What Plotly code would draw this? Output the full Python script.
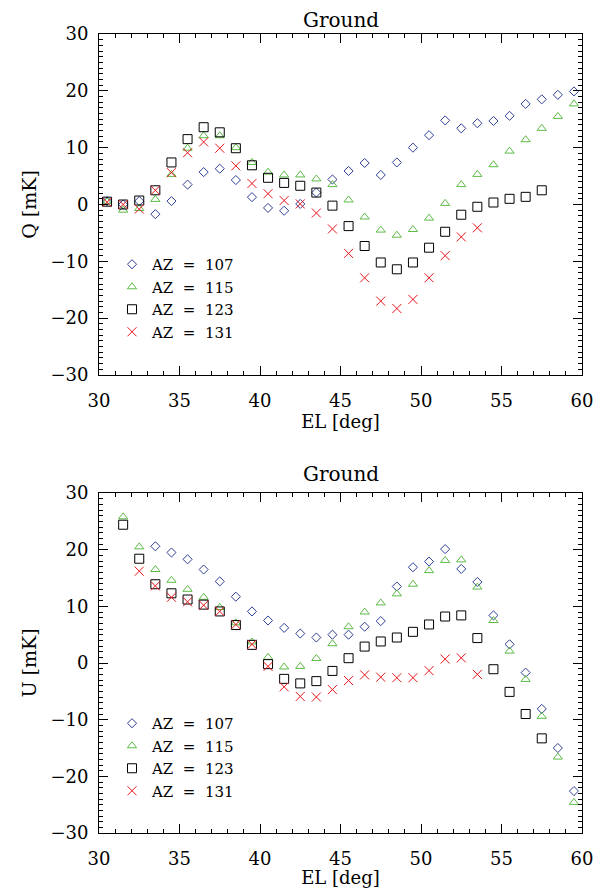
import plotly.graph_objects as go

# ---------------- data ----------------
EL_Q = [30.5, 31.5, 32.5, 33.5, 34.5, 35.5, 36.5, 37.5, 38.5, 39.5,
        40.5, 41.5, 42.5, 43.5, 44.5, 45.5, 46.5, 47.5, 48.5, 49.5,
        50.5, 51.5, 52.5, 53.5, 54.5, 55.5, 56.5, 57.5, 58.5, 59.5]

Q_107 = [0.6, 0.0, 0.6, -1.7, 0.6, 3.5, 5.7, 6.3, 4.3, 1.3,
         -0.6, -1.1, 0.1, 2.1, 4.4, 5.9, 7.3, 5.2, 7.4, 10.0,
         12.2, 14.8, 13.4, 14.3, 14.7, 15.6, 17.7, 18.5, 19.3, 19.9]
Q_115 = [0.5, -1.0, -0.7, 0.9, 5.3, 9.9, 12.1, 12.1, 10.0, 7.4,
         5.7, 5.2, 5.2, 4.5, 3.5, 0.8, -2.2, -4.5, -5.4, -4.4,
         -2.4, 0.2, 3.5, 5.3, 7.0, 9.4, 11.4, 13.4, 15.5, 17.7]
Q_123 = [0.5, 0.0, 0.7, 2.5, 7.4, 11.5, 13.6, 12.7, 9.9, 6.9,
         4.7, 3.8, 3.3, 2.1, -0.2, -3.8, -7.3, -10.2, -11.4, -10.2,
         -7.6, -4.8, -1.8, -0.4, 0.35, 1.0, 1.35, 2.5]
Q_131 = [0.4, 0.0, -0.8, 2.5, 5.6, 9.1, 11.0, 9.9, 6.8, 3.7,
         1.9, 0.7, 0.1, -1.5, -4.3, -8.6, -12.9, -17.0, -18.3, -16.7,
         -12.9, -9.0, -5.7, -4.1]

EL_U_107 = [33.5, 34.5, 35.5, 36.5, 37.5, 38.5, 39.5, 40.5, 41.5, 42.5,
            43.5, 44.5, 45.5, 46.5, 47.5, 48.5, 49.5, 50.5, 51.5, 52.5,
            53.5, 54.5, 55.5, 56.5, 57.5, 58.5, 59.5]
U_107 = [20.6, 19.5, 18.3, 16.5, 14.4, 11.7, 9.1, 7.5, 6.2, 5.2,
         4.5, 5.0, 5.0, 6.4, 7.4, 13.5, 16.9, 17.9, 20.1, 16.6,
         14.3, 8.4, 3.3, -1.7, -8.1, -15.0, -22.6]

EL_U_115 = [31.5, 32.5, 33.5, 34.5, 35.5, 36.5, 37.5, 38.5, 39.5, 40.5,
            41.5, 42.5, 43.5, 44.5, 45.5, 46.5, 47.5, 48.5, 49.5, 50.5,
            51.5, 52.5, 53.5, 54.5, 55.5, 56.5, 57.5, 58.5, 59.5]
U_115 = [25.8, 20.5, 16.5, 14.6, 13.0, 11.6, 9.8, 7.1, 3.7, 1.0,
         -0.7, -0.6, 0.8, 3.4, 6.4, 9.0, 10.6, 12.2, 13.9, 16.3,
         18.1, 18.2, 13.4, 7.5, 2.1, -2.9, -9.4, -16.6, -24.6]

EL_U_123 = [31.5, 32.5, 33.5, 34.5, 35.5, 36.5, 37.5, 38.5, 39.5, 40.5,
            41.5, 42.5, 43.5, 44.5, 45.5, 46.5, 47.5, 48.5, 49.5, 50.5,
            51.5, 52.5, 53.5, 54.5, 55.5, 56.5, 57.5]
U_123 = [24.4, 18.4, 13.9, 12.3, 11.2, 10.3, 9.1, 6.7, 3.2, -0.2,
         -2.8, -3.6, -3.2, -1.4, 0.85, 2.9, 3.8, 4.5, 5.5, 6.8,
         8.2, 8.4, 4.4, -1.1, -5.1, -9.0, -13.3]

EL_U_131 = [32.5, 33.5, 34.5, 35.5, 36.5, 37.5, 38.5, 39.5, 40.5, 41.5,
            42.5, 43.5, 44.5, 45.5, 46.5, 47.5, 48.5, 49.5, 50.5, 51.5,
            52.5, 53.5]
U_131 = [16.2, 13.6, 11.6, 10.8, 10.2, 9.1, 6.8, 3.3, -0.6, -4.2,
         -5.9, -6.0, -4.7, -3.1, -2.1, -2.5, -2.6, -2.6, -1.35, 0.7,
         0.9, -2.0]

AZ_LABELS = ["107", "115", "123", "131"]
X_TICKS = [30, 35, 40, 45, 50, 55, 60]
Y_TICKS = [-30, -20, -10, 0, 10, 20, 30]

# ---------------- styles ----------------
FONT = "DejaVu Serif"
STY = [
    dict(symbol="diamond-open", size=7, color="#2f3f94"),
    dict(symbol="triangle-up-open", size=8, color="#5dbb46"),
    dict(symbol="square-open", size=9, color="#000000"),
    dict(symbol="x-thin-open", size=9, color="#e8141c"),
]

fig = go.Figure()

q_series = [(EL_Q, Q_107), (EL_Q, Q_115), (EL_Q[:len(Q_123)], Q_123), (EL_Q[:len(Q_131)], Q_131)]
u_series = [(EL_U_107, U_107), (EL_U_115, U_115), (EL_U_123, U_123), (EL_U_131, U_131)]

for i, (x, y) in enumerate(q_series):
    s = STY[i]
    fig.add_trace(go.Scatter(
        x=x, y=y, mode="markers", xaxis="x", yaxis="y",
        name="AZ\u00a0\u00a0=\u00a0\u00a0" + AZ_LABELS[i], legend="legend",
        marker=dict(symbol=s["symbol"], size=s["size"], color=s["color"],
                    line=dict(width=1, color=s["color"]))))
for i, (x, y) in enumerate(u_series):
    s = STY[i]
    fig.add_trace(go.Scatter(
        x=x, y=y, mode="markers", xaxis="x2", yaxis="y2",
        name="AZ\u00a0\u00a0=\u00a0\u00a0" + AZ_LABELS[i], legend="legend2",
        marker=dict(symbol=s["symbol"], size=s["size"], color=s["color"],
                    line=dict(width=1, color=s["color"]))))

# page body has an 8px margin, so the figure is drawn 8px in from the top-left
OFF = 8
W, H = 606 - 2 * OFF, 896 - 2 * OFF
ML, MR, MT = 99 - OFF, W - (582 - OFF), 34 - OFF
MB = H - (833 - OFF)
PW, PH = W - ML - MR, H - MT - MB


def py(pix):
    """reference-page pixel row -> paper fraction"""
    return (H - MB - (pix - OFF)) / PH


def px(pix):
    return (pix - OFF - ML) / PW


def xax(anchor, standoff):
    return dict(
        domain=[0, 1], anchor=anchor, range=[30, 60], tickvals=X_TICKS,
        ticks="inside", ticklen=9, tickwidth=1, tickcolor="black",
        minor=dict(dtick=1, ticks="inside", ticklen=4, tickwidth=1, tickcolor="black"),
        showline=True, linecolor="black", linewidth=1, mirror="ticks",
        showgrid=False, zeroline=False,
        tickfont=dict(family=FONT, size=18, color="black"),
        ticklabelstandoff=9,
        title=dict(text="EL [deg]", font=dict(family=FONT, size=18, color="black"),
                   standoff=standoff),
    )


def yax(anchor, domain, title):
    return dict(
        domain=domain, anchor=anchor, range=[-30, 30], tickvals=Y_TICKS,
        ticks="inside", ticklen=9, tickwidth=1, tickcolor="black",
        minor=dict(dtick=1, ticks="inside", ticklen=4, tickwidth=1, tickcolor="black"),
        showline=True, linecolor="black", linewidth=1, mirror="ticks",
        showgrid=False, zeroline=False,
        tickfont=dict(family=FONT, size=18, color="black"),
        ticklabelstandoff=6,
        title=dict(text=title, font=dict(family=FONT, size=19, color="black"), standoff=8),
    )


top_dom = [py(375), 1.0]
bot_dom = [0.0, py(493)]

leg_common = dict(
    xanchor="left", yanchor="top", bgcolor="rgba(0,0,0,0)", borderwidth=0,
    font=dict(family=FONT, size=15, color="black"), tracegroupgap=0,
    itemclick=False, itemdoubleclick=False,
)

fig.update_layout(
    width=W, height=H,
    margin=dict(l=ML, r=MR, t=MT, b=MB, autoexpand=False),
    paper_bgcolor="white", plot_bgcolor="white",
    showlegend=True,
    xaxis=xax("y", 5),
    yaxis=yax("x", top_dom, "Q [mK]"),
    xaxis2=xax("y2", 3),
    yaxis2=yax("x2", bot_dom, "U [mK]"),
    legend=dict(x=px(112), y=py(248), **leg_common),
    legend2=dict(x=px(112), y=py(707), **leg_common),
    annotations=[
        dict(text="Ground", x=0.5, xref="paper", y=py(20), yref="paper",
             xanchor="center", yanchor="middle", showarrow=False,
             font=dict(family=FONT, size=20, color="black")),
        dict(text="Ground", x=0.5, xref="paper", y=py(474), yref="paper",
             xanchor="center", yanchor="middle", showarrow=False,
             font=dict(family=FONT, size=20, color="black")),
    ],
)

fig.write_html("out.html")
